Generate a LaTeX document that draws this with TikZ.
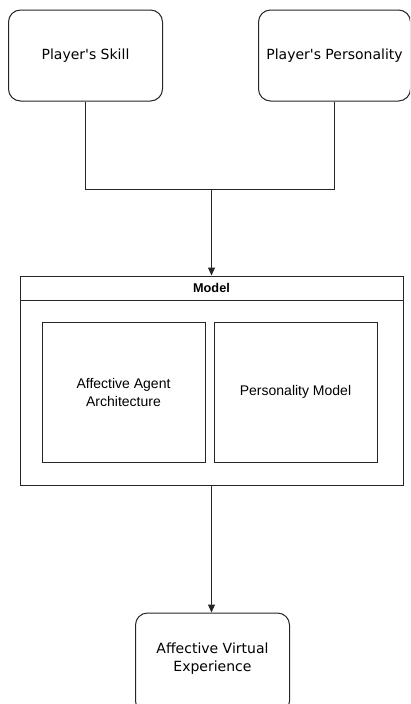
\documentclass[tikz,border=0pt]{standalone}
\usepackage{fontspec}
\setmainfont{Liberation Sans}
\newfontfamily\verdanalike{DejaVu Sans}
\usetikzlibrary{arrows.meta}
\tikzset{
  roundbox/.style={draw=black!85, line width=1pt, rounded corners=12pt, fill=white,
    inner sep=0pt, minimum width=154pt, minimum height=91pt, align=center,
    font=\verdanalike\fontsize{14}{18}\selectfont},
  plainbox/.style={draw=black!85, line width=1pt, fill=white, inner sep=0pt,
    minimum width=163pt, minimum height=140pt, align=center,
    font=\fontsize{14}{18}\selectfont},
  link/.style={draw=black!85, line width=1pt},
  arrowlink/.style={link, -{Triangle[length=8pt,width=7pt]}}
}
\begin{document}
\begin{tikzpicture}[x=1pt,y=-1pt]
\useasboundingbox (0,0) rectangle (410,704);
\begin{scope}
\clip (0,0) rectangle (410,704);
% inputs
\node[roundbox] (skill) at (85.5,55.5) {Player's Skill};
\node[roundbox, minimum width=152pt] (pers) at (334.5,55.5) {Player's Personality};
% model container with header strip
\node[draw=black!85, line width=1pt, inner sep=0pt, minimum width=383pt, minimum height=209pt] (model) at (211.5,380.5) {};
\draw[link] (20,300.5) -- (403,300.5);
\node[font=\bfseries\fontsize{12.7}{14}\selectfont] (modeltitle) at (211.5,288) {Model};
\node[plainbox] (aaa) at (123.5,392) {Affective Agent\\Architecture};
\node[plainbox] (pm) at (295.5,392) {Personality Model};
% output (its lower edge runs off the page)
\node[roundbox, minimum height=100pt] (exp) at (212.5,663) {};
\node[font=\verdanalike\fontsize{14}{18}\selectfont, align=center] (exptext) at (212.5,659) {Affective Virtual\\Experience};
% connectors
\coordinate (join) at (211.5,189.5);
\draw[link] (skill.south) |- (join) -| (pers.south);
\draw[arrowlink] (join) -- (join |- model.north);
\draw[arrowlink] (model.south -| join) -- (join |- exp.north);
\end{scope}
\end{tikzpicture}
\end{document}
